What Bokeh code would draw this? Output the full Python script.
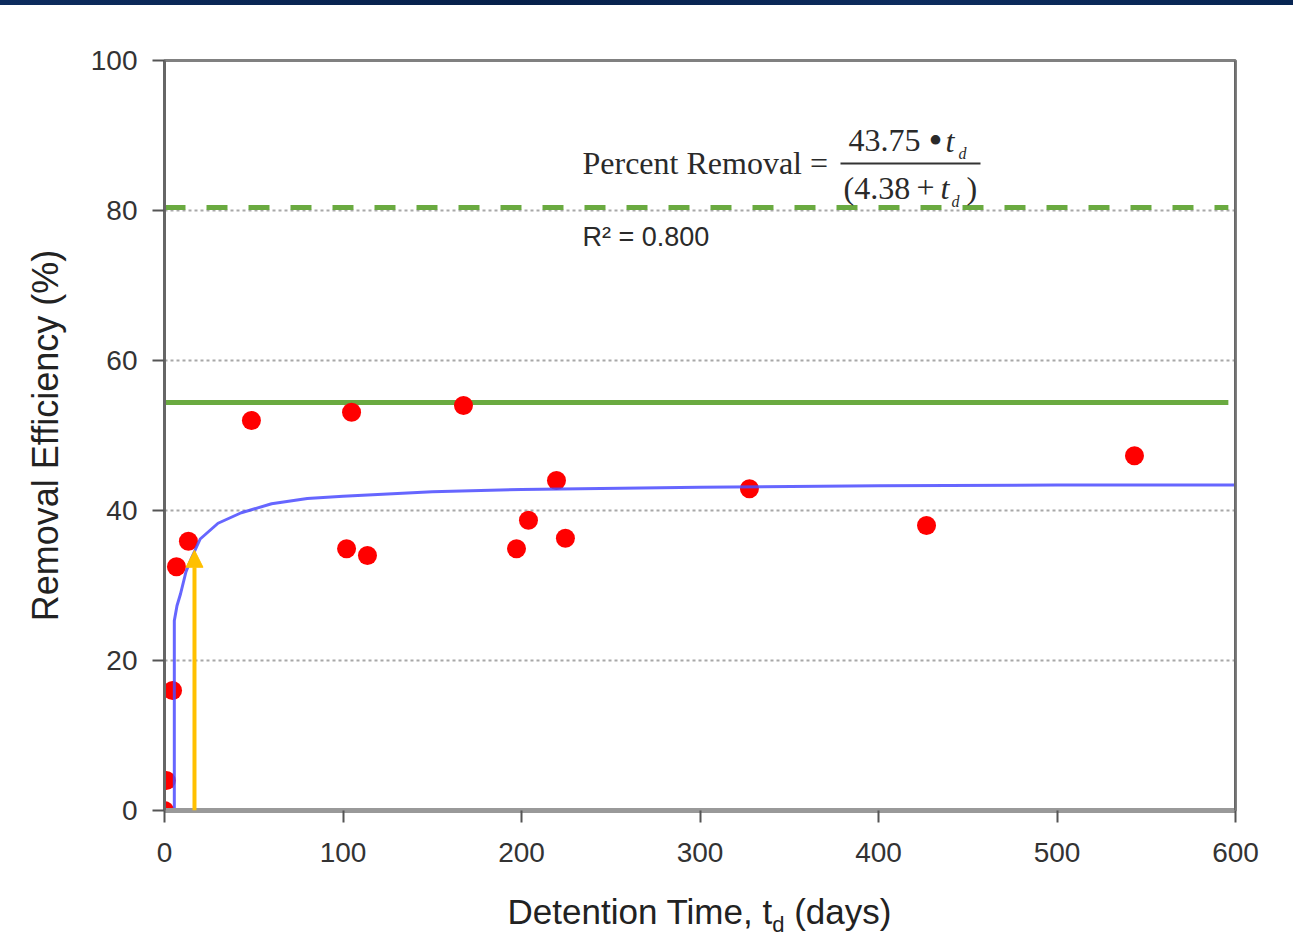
from bokeh.plotting import figure
from bokeh.models import Range1d, Label, Arrow, NormalHead, FixedTicker, Span, Div
from bokeh.layouts import column
from bokeh.embed import file_html
from bokeh.resources import INLINE

# ---- data ----
detention_days = [0, 1, 4.5, 6.7, 13.4, 48.7, 104.8, 102, 113.7, 167.5, 197.2, 203.9, 219.6, 224.6, 327.7, 426.9, 543.4]
removal_pct = [0, 4, 16, 32.5, 35.9, 52, 53.1, 34.9, 34, 54, 34.9, 38.7, 44, 36.3, 42.9, 38, 47.3]

fit_t = [5.5, 5.5, 7, 9, 12, 15, 20, 30, 43, 60, 80, 100, 150, 200, 300, 400, 500, 600]
fit_y = [0, 25.3, 27.3, 28.9, 31.8, 33.6, 36.2, 38.3, 39.7, 40.9, 41.6, 41.9, 42.5, 42.8, 43.1, 43.3, 43.4, 43.4]

solid_level = 54.4
dashed_level = 80.4
level_x = [0, 596]
arrow_x = 16.8
arrow_top = 34.7

x_ticks = [0, 100, 200, 300, 400, 500, 600]
y_ticks = [0, 20, 40, 60, 80, 100]

SANS = "Liberation Sans"
SERIF = "Liberation Serif"

band = Div(text="", width=1293, height=5, margin=(0, 0, 0, 0),
           styles={"background": "linear-gradient(90deg, #0d2c5e, #06204a 40%, #0d2c5e 70%, #072552)"})

p = figure(width=1285, height=875, output_backend="svg", toolbar_location=None,
           x_range=Range1d(0, 600), y_range=Range1d(0, 100),
           min_border_left=164, min_border_right=50, min_border_top=55, min_border_bottom=70,
           margin=(0, 0, 0, 0))

p.background_fill_color = "white"
p.border_fill_color = "white"
p.outline_line_color = "#808080"
p.outline_line_width = 3

p.xgrid.visible = False
p.ygrid.grid_line_color = "#a8a8a8"
p.ygrid.grid_line_dash = "3 3"
p.ygrid.grid_line_width = 2

p.xaxis.ticker = FixedTicker(ticks=x_ticks)
p.yaxis.ticker = FixedTicker(ticks=y_ticks)
p.xaxis.minor_tick_line_color = None
p.yaxis.minor_tick_line_color = None

for ax in (p.xaxis, p.yaxis):
    ax.major_tick_in = 0
    ax.major_tick_out = 12
    ax.major_tick_line_color = "#555555"
    ax.major_tick_line_width = 2
    ax.major_label_text_font = SANS
    ax.major_label_text_font_size = "28px"
    ax.major_label_text_color = "#333333"

p.yaxis.axis_line_color = "#666666"
p.yaxis.axis_line_width = 3
p.yaxis.major_label_standoff = 15
p.yaxis.axis_label = "Removal Efficiency (%)"
p.yaxis.axis_label_text_font = SANS
p.yaxis.axis_label_text_font_size = "36px"
p.yaxis.axis_label_text_font_style = "normal"
p.yaxis.axis_label_text_color = "#222222"
p.yaxis.axis_label_standoff = 22

p.xaxis.axis_line_color = "#999999"
p.xaxis.axis_line_width = 5
p.xaxis.major_label_standoff = 20
p.xaxis.axis_label = None

# reference lines
p.line(level_x, [dashed_level, dashed_level], line_color="#6aaa40", line_width=5, line_dash="21 21")
p.line(level_x, [solid_level, solid_level], line_color="#6aaa40", line_width=5)

# data points
p.scatter(detention_days, removal_pct, size=19, fill_color="#ff0000", line_color=None)

# fitted curve
p.line(fit_t, fit_y, line_color="#4b4bff", line_width=3, line_alpha=0.85)

# arrow
p.add_layout(Arrow(x_start=arrow_x, y_start=0, x_end=arrow_x, y_end=arrow_top,
                   line_color="#ffc000", line_width=4,
                   end=NormalHead(size=17, fill_color="#ffc000", line_color="#ffc000")))

# right border darker
p.add_layout(Span(location=600, dimension="height", line_color="#666666", line_width=3))

def px2x(px):
    return (px - 164) / 1.785

def px2y(py):
    return (810 - py) / 7.5

def lab(text, px, py, font, size, align="left", baseline="middle", style="normal", color="#2a2a2a"):
    p.add_layout(Label(x=px2x(px), y=px2y(py), text=text, text_font=font,
                       text_font_size=size, text_align=align, text_baseline=baseline,
                       text_font_style=style, text_color=color))

# equation
lab("Percent Removal =", 582, 162, SERIF, "32px")
lab("43.75", 848, 140, SERIF, "32px")
lab("\u2022", 935, 140, SERIF, "40px", align="center")
lab("t", 945, 140, SERIF, "32px", style="italic")
lab("d", 958, 153, SERIF, "16px", style="italic")
p.segment(x0=[px2x(840)], y0=[px2y(163)], x1=[px2x(980)], y1=[px2y(163)], line_color="#333333", line_width=2)
lab("(4.38", 843, 187, SERIF, "32px")
lab("+", 925, 187, SERIF, "32px", align="center")
lab("t", 940, 187, SERIF, "32px", style="italic")
lab("d", 951, 201, SERIF, "16px", style="italic")
lab(")", 966, 187, SERIF, "32px")

lab("R\u00b2 = 0.800", 582, 236, SANS, "27px")

xtitle = Div(text='Detention Time, t<sub style="font-size:22px">d</sub> (days)',
             width=1071, height=55, margin=(10, 0, 0, 164),
             styles={"font-family": "Liberation Sans", "font-size": "35px", "color": "#222222",
                     "text-align": "center", "line-height": "44px", "width": "1071px"})

layout = column(band, p, xtitle, spacing=0)

open("out.html", "w").write(file_html(layout, INLINE))
